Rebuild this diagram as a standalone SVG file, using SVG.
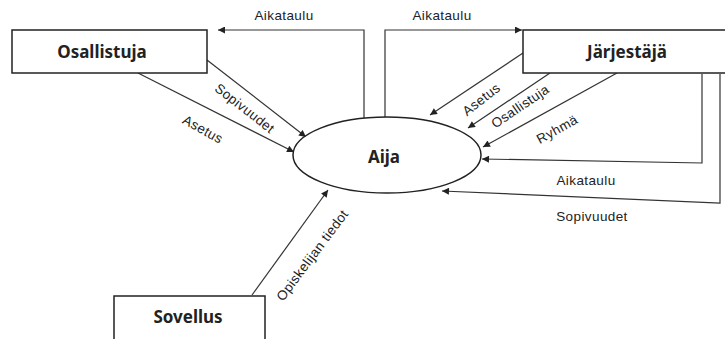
<svg xmlns="http://www.w3.org/2000/svg" width="725" height="339" viewBox="0 0 725 339">
<defs>
<marker id="ah" viewBox="0 0 10 10" refX="10" refY="5" markerWidth="9" markerHeight="7" markerUnits="userSpaceOnUse" orient="auto">
<path d="M0,0 L10,5 L0,10 z" fill="#222"/>
</marker>
<style>
.box{fill:#fff;stroke:#222;stroke-width:1.5}
.name{font-family:"Noto Sans","DejaVu Sans",sans-serif;font-weight:bold;font-size:17px;fill:#222;text-anchor:middle}
.ln{fill:none;stroke:#333;stroke-width:1.2;marker-end:url(#ah)}
.lbl{font-family:"Liberation Sans",Arial,sans-serif;font-size:13.5px;fill:#222;text-anchor:middle;letter-spacing:0.4px}
</style>
</defs>
<rect width="725" height="339" fill="#fff"/>
<g id="connectors">
<polyline class="ln" points="364,118 364,30 218,30"/>
<polyline class="ln" points="385,117 385,30 522,30"/>
<line class="ln" x1="207" y1="60" x2="306" y2="137"/>
<line class="ln" x1="138" y1="73" x2="294" y2="152"/>
<line class="ln" x1="523" y1="53" x2="430" y2="115"/>
<line class="ln" x1="550" y1="73" x2="468" y2="128"/>
<line class="ln" x1="617" y1="73" x2="483" y2="147"/>
<polyline class="ln" points="702,74 702,163 482,159"/>
<polyline class="ln" points="720,74 720,203 442,191"/>
<line class="ln" x1="252" y1="295" x2="328" y2="190"/>
<text class="lbl" x="284" y="20">Aikataulu</text>
<text class="lbl" x="442" y="20">Aikataulu</text>
<text class="lbl" transform="translate(245,108) rotate(38)" y="5">Sopivuudet</text>
<text class="lbl" transform="translate(203,129) rotate(29)" y="5">Asetus</text>
<text class="lbl" transform="translate(481,99) rotate(-38)" y="5">Asetus</text>
<text class="lbl" transform="translate(520,106) rotate(-34)" y="5">Osallistuja</text>
<text class="lbl" transform="translate(557,129) rotate(-29)" y="5">Ryhmä</text>
<text class="lbl" x="586" y="185">Aikataulu</text>
<text class="lbl" x="592" y="221">Sopivuudet</text>
<text class="lbl" transform="translate(312,255) rotate(-53)" y="5">Opiskelijan tiedot</text>
</g>
<g id="osallistuja">
<rect class="box" x="12" y="30" width="195" height="43"/>
<text class="name" x="102" y="58">Osallistuja</text>
</g>
<g id="jarjestaja">
<rect class="box" x="523" y="30" width="210" height="43"/>
<text class="name" x="627" y="58">Järjestäjä</text>
</g>
<g id="aija">
<ellipse class="box" cx="387" cy="155" rx="94" ry="38"/>
<text class="name" x="384" y="163">Aija</text>
</g>
<g id="sovellus">
<rect class="box" x="114" y="296" width="151" height="46"/>
<text class="name" x="188" y="323">Sovellus</text>
</g>
</svg>
